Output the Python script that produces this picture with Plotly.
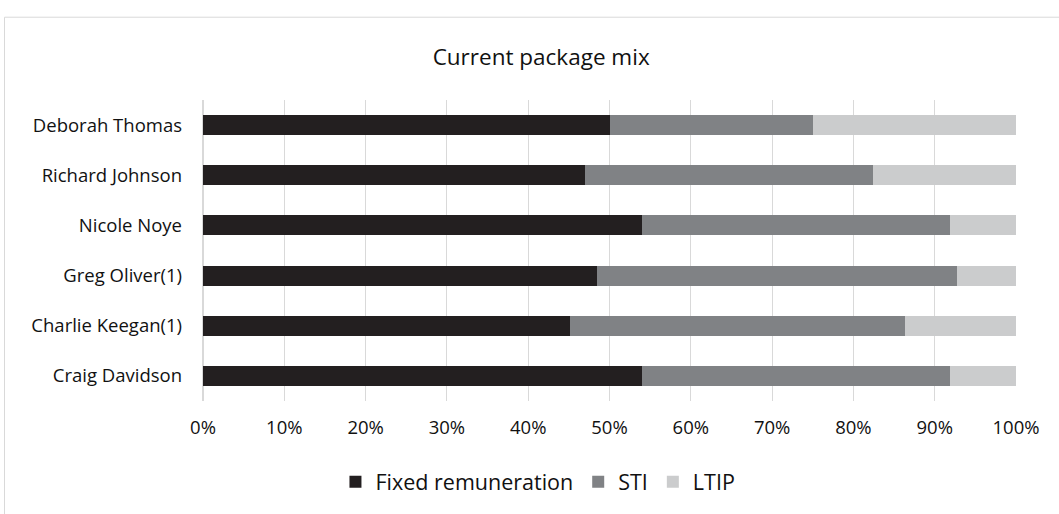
import plotly.graph_objects as go

names = ["Deborah Thomas", "Richard Johnson", "Nicole Noye", "Greg Oliver(1)",
         "Charlie Keegan(1)", "Craig Davidson"]
fixed = [50.0, 47.0, 54.0, 48.5, 45.2, 54.0]
sti = [25.0, 35.4, 37.9, 44.2, 41.2, 37.9]
ltip = [25.0, 17.6, 8.1, 7.3, 13.6, 8.1]
series_names = ["Fixed remuneration", "STI", "LTIP"]
colors = ["#231f20", "#808285", "#cbcccd"]

FONT = "Open Sans"
TXT = "#111111"

fig = go.Figure()
for nm, vals, c in zip(series_names, [fixed, sti, ltip], colors):
    fig.add_trace(go.Bar(
        y=names, x=vals, name=nm, orientation="h",
        marker=dict(color=c, line=dict(width=0)),
        hoverinfo="x+y+name",
    ))

fig.update_layout(
    barmode="stack",
    bargap=0.6,
    width=1059, height=514,
    margin=dict(l=203, r=43, t=100, b=110, pad=0),
    paper_bgcolor="white", plot_bgcolor="white",
    font=dict(family=FONT, size=18, color=TXT),
    title=dict(text="Current package mix", x=0.511, xanchor="center",
               y=1 - 57 / 514, yanchor="middle",
               font=dict(family=FONT, size=22.5, color=TXT)),
    showlegend=True,
    legend=dict(orientation="h", x=0.412, xanchor="center",
                y=-(485 - 403.6) / 303.6, yanchor="middle",
                font=dict(family=FONT, size=21.5, color=TXT),
                traceorder="normal", itemwidth=30),
    xaxis=dict(range=[0, 100], dtick=10, ticksuffix="%",
               showgrid=True, gridcolor="#d9d9d9", gridwidth=1,
               zeroline=True, zerolinecolor="#d9d9d9", zerolinewidth=2,
               showline=False, ticks="", ticklabelstandoff=13,
               tickfont=dict(family=FONT, size=18.5, color=TXT),
               fixedrange=True),
    yaxis=dict(autorange="reversed", categoryorder="array", categoryarray=names,
               showgrid=False, zeroline=False, showline=False, ticks="",
               ticklabelstandoff=20,
               tickfont=dict(family=FONT, size=18.5, color=TXT),
               fixedrange=True),
    shapes=[dict(type="rect", xref="paper", yref="paper",
                 x0=(4.5 - 203) / 813, x1=(1070 - 203) / 813,
                 y0=(403.6 - 530) / 303.6, y1=(403.6 - 16.5) / 303.6,
                 line=dict(color="#d9d9d9", width=1), fillcolor="rgba(0,0,0,0)",
                 layer="below")],
)

fig.write_html("out.html")
